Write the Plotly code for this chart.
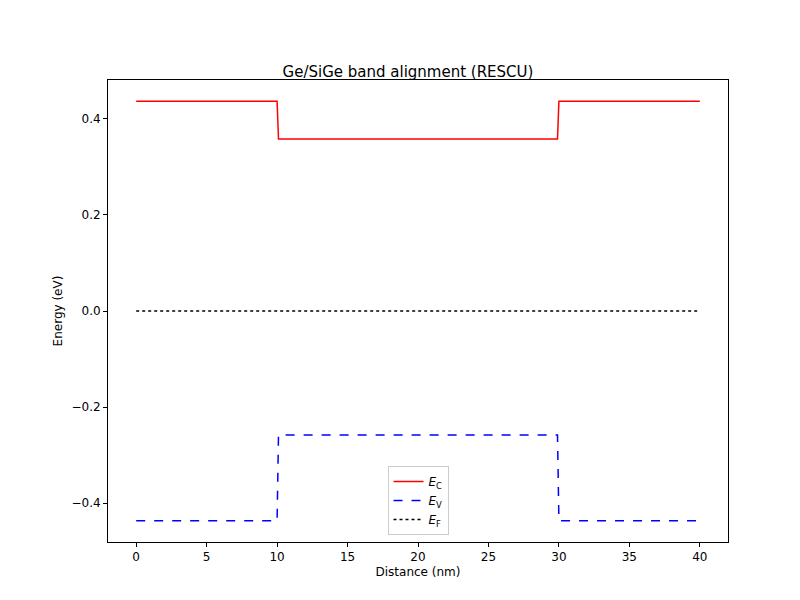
import plotly.graph_objects as go

x = [0, 10, 10.1, 29.9, 30, 40]
ec = [0.437, 0.437, 0.358, 0.358, 0.437, 0.437]
ev = [-0.437, -0.437, -0.258, -0.258, -0.437, -0.437]
xf = [0, 40]
ef = [0.0, 0.0]

fig = go.Figure()
fig.add_trace(go.Scatter(x=x, y=ec, mode="lines", line=dict(color="red", width=1.5), name="<i>E</i><sub>C</sub>"))
fig.add_trace(go.Scatter(x=x, y=ev, mode="lines", line=dict(color="blue", width=1.5, dash="dash"), name="<i>E</i><sub>V</sub>"))
fig.add_trace(go.Scatter(x=xf, y=ef, mode="lines", line=dict(color="black", width=1.5, dash="dot"), name="<i>E</i><sub>F</sub>"))

ax = dict(showgrid=False, zeroline=False, showline=True, mirror=True, linecolor="black", linewidth=1,
          ticks="outside", ticklen=4, tickcolor="black", tickfont=dict(size=12, color="black"), automargin=False)
fig.update_layout(
    width=800, height=600, plot_bgcolor="white", paper_bgcolor="white",
    font=dict(family="DejaVu Sans", size=12, color="black"),
    margin=dict(l=100, r=80, t=72, b=66, autoexpand=False),
    title=dict(text="Ge/SiGe band alignment (RESCU)", x=0.5, xanchor="center", y=0.885, yanchor="bottom", font=dict(size=15)),
    xaxis=dict(ax, range=[-2, 42], tickvals=list(range(0, 41, 5)), title=dict(text="Distance (nm)", standoff=4, font=dict(size=12))),
    yaxis=dict(ax, range=[-0.481, 0.481], tickvals=[-0.4, -0.2, 0, 0.2, 0.4],
               ticktext=["\u22120.4", "\u22120.2", "0.0", "0.2", "0.4"], title=dict(text="Energy (eV)", standoff=6, font=dict(size=12))),
    legend=dict(x=0.5, y=0.015, xanchor="center", yanchor="bottom", bordercolor="#cccccc", borderwidth=1,
                bgcolor="white", font=dict(size=12)),
)
fig.write_html("out.html")
